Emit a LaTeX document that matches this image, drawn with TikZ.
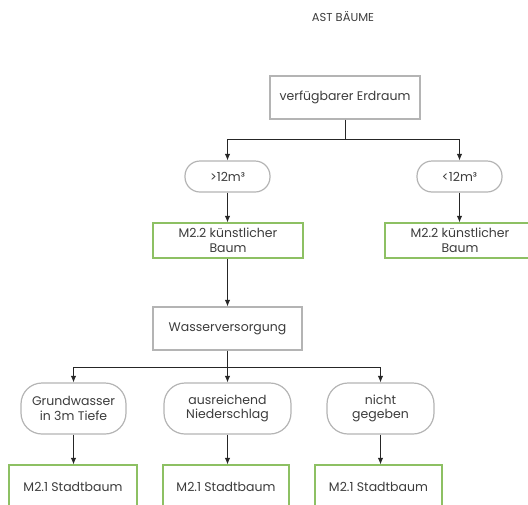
\documentclass[tikz,border=0pt]{standalone}
\usepackage{fontspec}
\setmainfont{Poppins}
\usetikzlibrary{arrows.meta}
\definecolor{txt}{HTML}{3C3C3C}
\definecolor{graybd}{HTML}{B4B4B4}
\definecolor{greenbd}{HTML}{8DC063}
\definecolor{ln}{HTML}{262626}
\tikzset{
  base/.style={draw, line width=1.2pt, text=txt, align=center, inner sep=0pt, font=\fontsize{12.5}{14.5}\selectfont},
  graybox/.style={base, draw=graybd, rectangle},
  greenbox/.style={base, draw=greenbd, rectangle},
  pill/.style={base, draw=graybd, rectangle},
  arr/.style={draw=ln, line width=0.9pt, -{Latex[length=6.5pt,width=5.5pt]}},
  ln/.style={draw=ln, line width=0.9pt}
}
\begin{document}
\begin{tikzpicture}[x=1pt,y=-1pt]
\useasboundingbox (0,0) rectangle (528,504);
\clip (0,0) rectangle (528,504);
\node[text=txt, font=\fontsize{11.5}{13}\selectfont] (title) at (343,17) {AST BÄUME};
\node[graybox, minimum width=150pt, minimum height=43pt] (erd) at (345,97.5) {verfügbarer Erdraum};
\node[pill, rounded corners=15pt, minimum width=85pt, minimum height=31pt] (p1) at (227.5,176.5) {>12m³};
\node[pill, rounded corners=15pt, minimum width=85pt, minimum height=31pt] (p2) at (459.5,176.5) {<12m³};
\node[greenbox, minimum width=150pt, minimum height=35pt] (m1) at (228,240.5) {M2.2 künstlicher\\Baum};
\node[greenbox, minimum width=150pt, minimum height=35pt] (m2) at (460,240.5) {M2.2 künstlicher\\Baum};
\node[graybox, minimum width=149pt, minimum height=43pt] (w) at (227.5,328.5) {Wasserversorgung};
\node[pill, rounded corners=21pt, minimum width=105pt, minimum height=51pt] (q1) at (73.5,408.5) {Grundwasser\\in 3m Tiefe};
\node[pill, rounded corners=21pt, minimum width=127pt, minimum height=51pt] (q2) at (227.5,408.5) {ausreichend\\Niederschlag};
\node[pill, rounded corners=21pt, minimum width=107pt, minimum height=51pt] (q3) at (380.5,408.5) {nicht\\gegeben};
\node[greenbox, minimum width=128pt, minimum height=44pt] (b1) at (73,487) {M2.1 Stadtbaum};
\node[greenbox, minimum width=126pt, minimum height=44pt] (b2) at (226,487) {M2.1 Stadtbaum};
\node[greenbox, minimum width=127pt, minimum height=44pt] (b3) at (378.5,487) {M2.1 Stadtbaum};
\coordinate (j1) at (345,139);
\coordinate (j2) at (227.5,367);
\draw[ln] (erd.south) -- (j1);
\draw[arr] (j1) -| (p1.north);
\draw[arr] (j1) -| (p2.north);
\draw[arr] (p1) -- (m1.north -| p1.south);
\draw[arr] (p2) -- (m2.north -| p2.south);
\draw[arr] (m1.south -| p1.south) -- (w);
\draw[ln] (w.south) -- (j2);
\draw[arr] (j2) -| (q1.north);
\draw[arr] (j2) -- (q2.north);
\draw[arr] (j2) -| (q3.north);
\draw[arr] (q1) -- (b1.north -| q1.south);
\draw[arr] (q2) -- (b2.north -| q2.south);
\draw[arr] (q3) -- (b3.north -| q3.south);
\end{tikzpicture}
\end{document}
